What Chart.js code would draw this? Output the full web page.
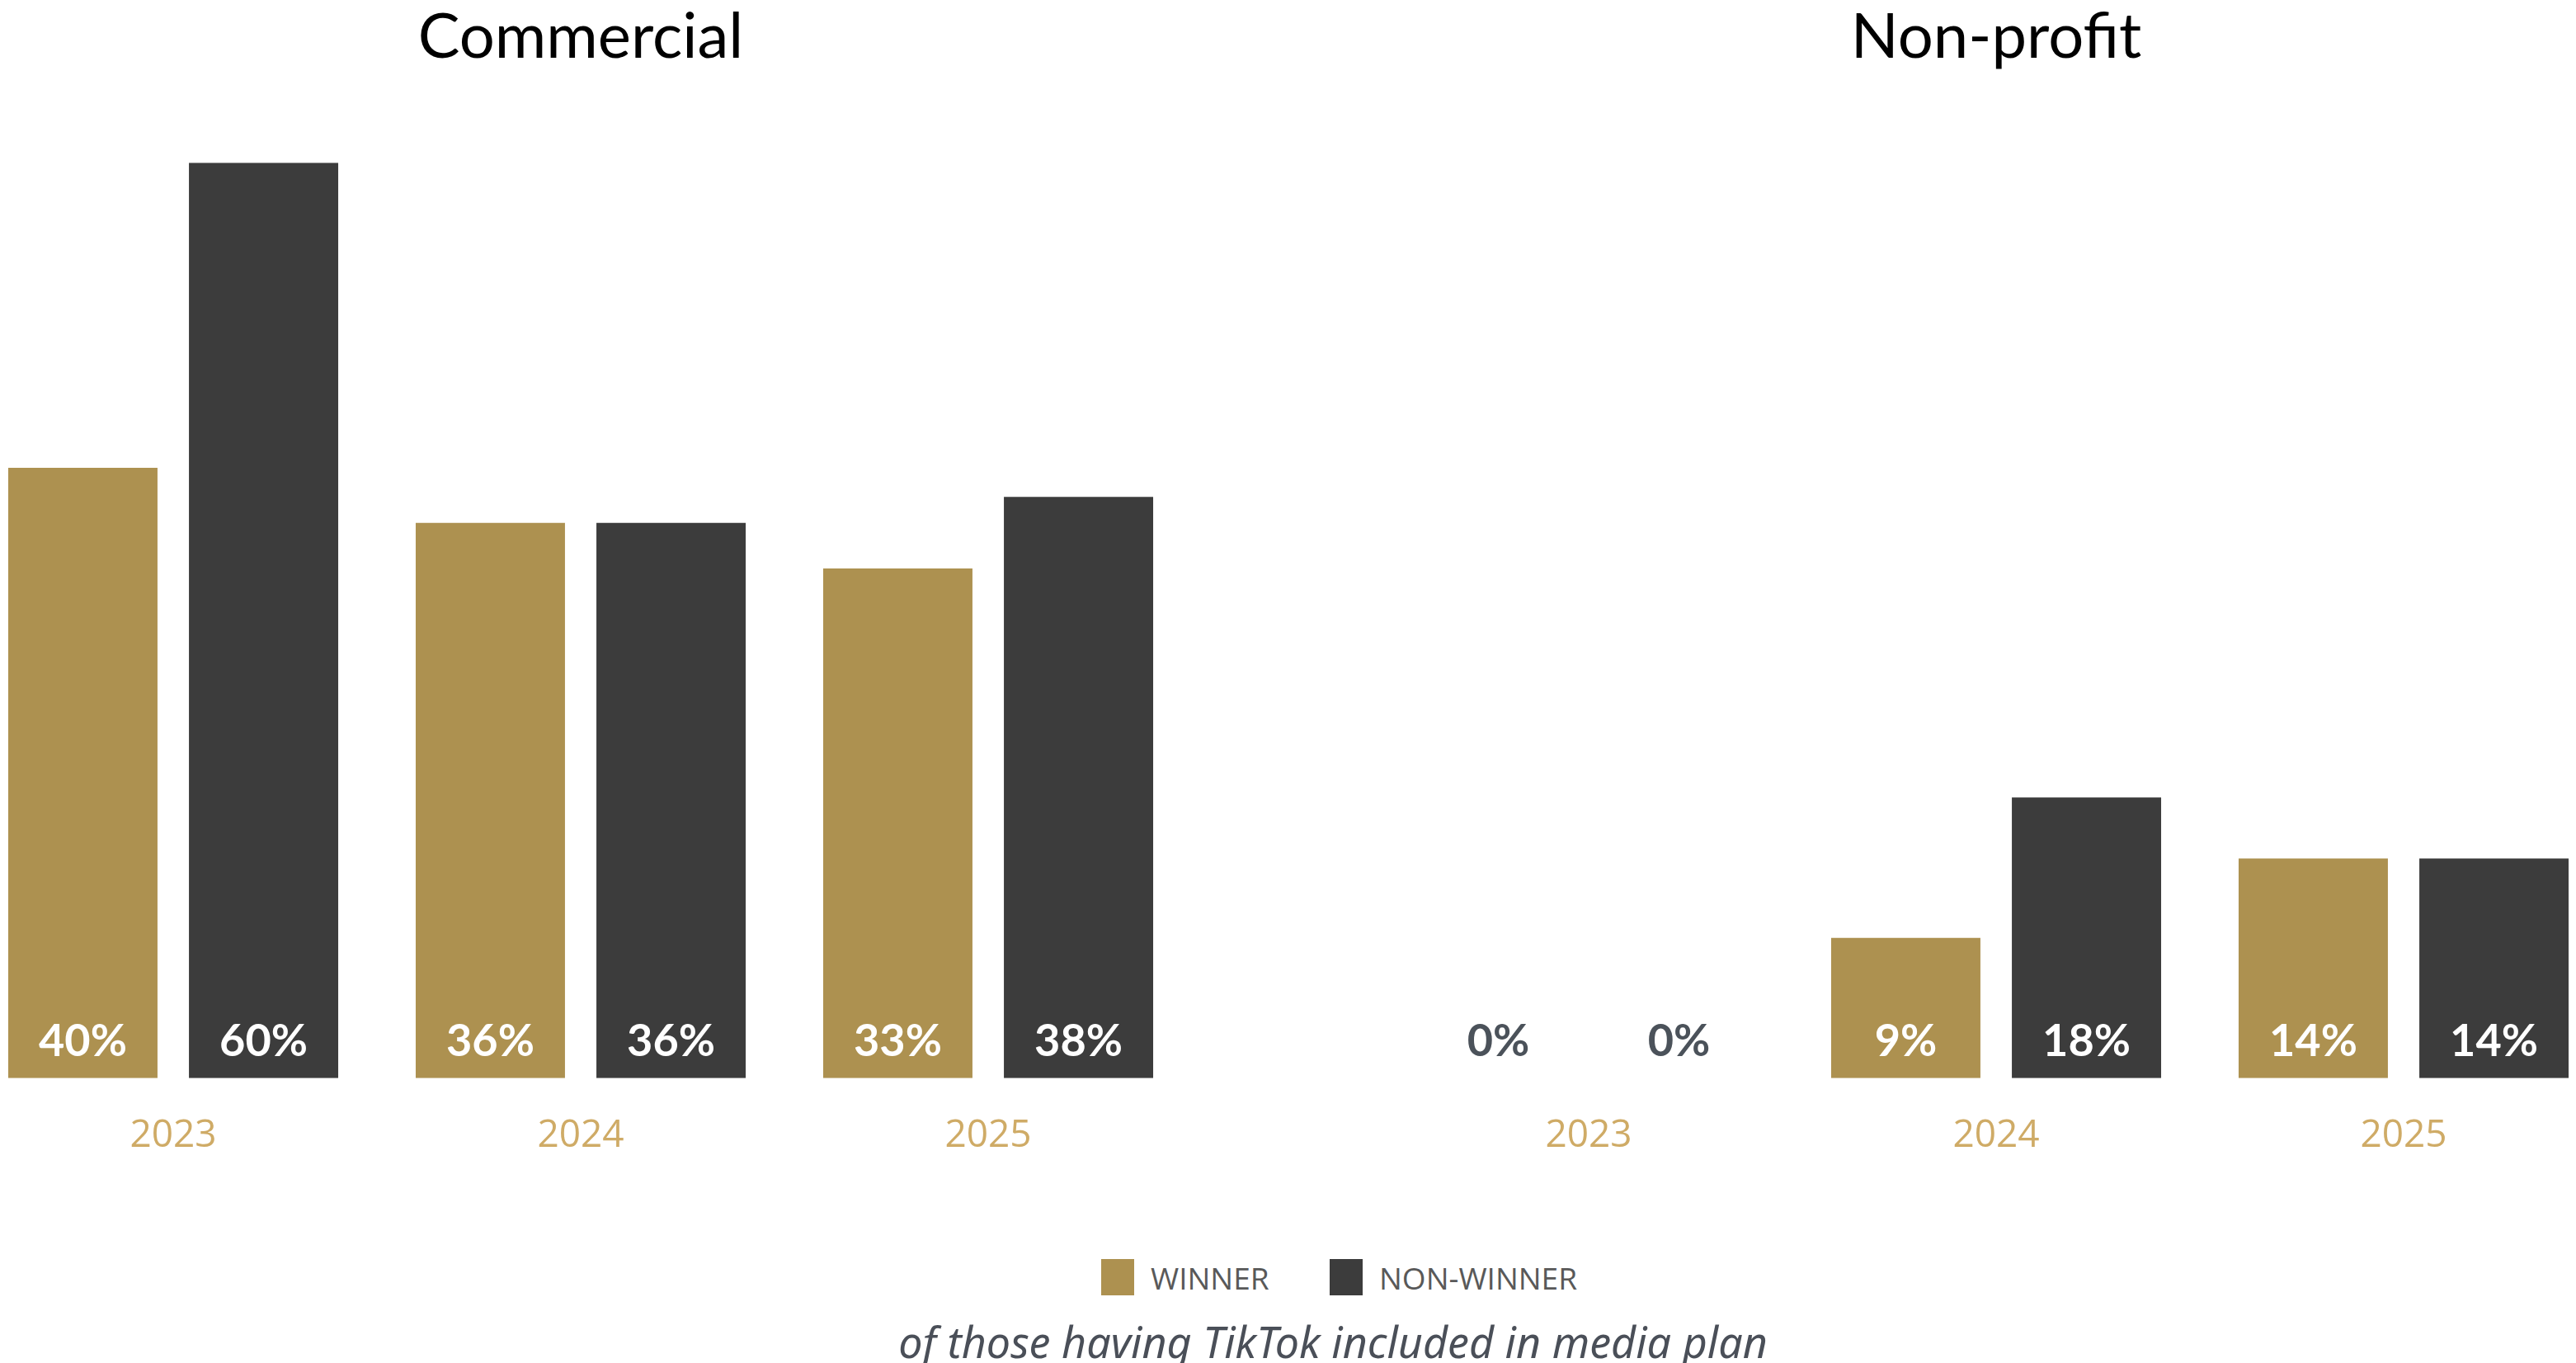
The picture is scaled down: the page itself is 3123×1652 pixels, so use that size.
<!DOCTYPE html>
<html>
<head>
<meta charset="utf-8">
<script src="https://cdn.jsdelivr.net/npm/chart.js@4.4.1/dist/chart.umd.min.js"></script>
<style>
  body { margin:0; width:3123px; height:1652px; overflow:hidden; background:#fff; position:relative; font-family:"Open Sans", sans-serif; }
  .panel { position:absolute; top:0; width:1482px; height:1446px; }
  #wrapA { left:-37px; }
  #wrapB { left:1679px; }
  .legend { position:absolute; top:1526px; height:44px; display:flex; align-items:center; font-size:37px; color:#595959; }
  .legend .box { width:40px; height:44px; margin-right:20px; }
  .foot { position:absolute; left:0; width:3232px; top:1590px; text-align:center; font-family:"Noto Sans", sans-serif; font-style:italic; font-size:52px; color:#4a4f58; }
</style>
</head>
<body>
<div class="panel" id="wrapA"><canvas id="chartA"></canvas></div>
<div class="panel" id="wrapB"><canvas id="chartB"></canvas></div>

<div class="legend" style="left:1335px;"><div class="box" style="background:#ad9150"></div>WINNER</div>
<div class="legend" style="left:1612px;"><div class="box" style="background:#3c3c3c"></div>NON-WINNER</div>
<div class="foot">of those having TikTok included in media plan</div>

<script>
const years = ['2023', '2024', '2025'];
const seriesNames = ['WINNER', 'NON-WINNER'];
const commercialWinner = [40, 36.4, 33.4];
const commercialNonWinner = [60, 36.4, 38.1];
const nonprofitWinner = [0, 9.2, 14.4];
const nonprofitNonWinner = [0, 18.4, 14.4];

const GOLD = '#ad9150';
const DARK = '#3c3c3c';

// draws the % value near the bottom of every bar
const barLabels = {
    id: 'barLabels',
    afterDatasetsDraw(chart) {
        const ctx = chart.ctx;
        const base = chart.scales.y.getPixelForValue(0);
        ctx.save();
        ctx.font = 'bold 54px Lato, sans-serif';
        ctx.textAlign = 'center';
        ctx.textBaseline = 'middle';
        chart.data.datasets.forEach((ds, i) => {
            chart.getDatasetMeta(i).data.forEach((el, j) => {
                const v = ds.data[j];
                ctx.fillStyle = v === 0 ? '#4b525a' : '#ffffff';
                ctx.fillText(Math.round(v) + '%', el.x, base - 44);
            });
        });
        ctx.restore();
    }
};

const makeChart = (id, title, winner, nonWinner) => {
    const ctx = document.getElementById(id).getContext('2d');
    return new Chart(ctx, {
        type: 'bar',
        data: {
            labels: years,
            datasets: [
                { label: seriesNames[0], data: winner, backgroundColor: GOLD, categoryPercentage: 0.887, barPercentage: 0.826 },
                { label: seriesNames[1], data: nonWinner, backgroundColor: DARK, categoryPercentage: 0.887, barPercentage: 0.826 }
            ]
        },
        options: {
            responsive: true,
            maintainAspectRatio: false,
            animation: false,
            layout: { padding: 0 },
            plugins: {
                legend: { display: false },
                tooltip: { enabled: false },
                title: {
                    display: true,
                    text: title,
                    color: '#000',
                    font: { family: 'Lato, sans-serif', size: 76, weight: 'normal', lineHeight: 1.2 },
                    padding: { top: 0, bottom: 106 }
                }
            },
            scales: {
                x: {
                    grid: { display: false, drawTicks: false },
                    border: { display: false },
                    ticks: { color: '#cfab66', font: { family: '"Open Sans", sans-serif', size: 46 }, padding: 42 }
                },
                y: { display: false, min: 0, max: 60 }
            }
        },
        plugins: [barLabels]
    });
};

makeChart('chartA', 'Commercial', commercialWinner, commercialNonWinner);
makeChart('chartB', 'Non-profit', nonprofitWinner, nonprofitNonWinner);
</script>
</body>
</html>
